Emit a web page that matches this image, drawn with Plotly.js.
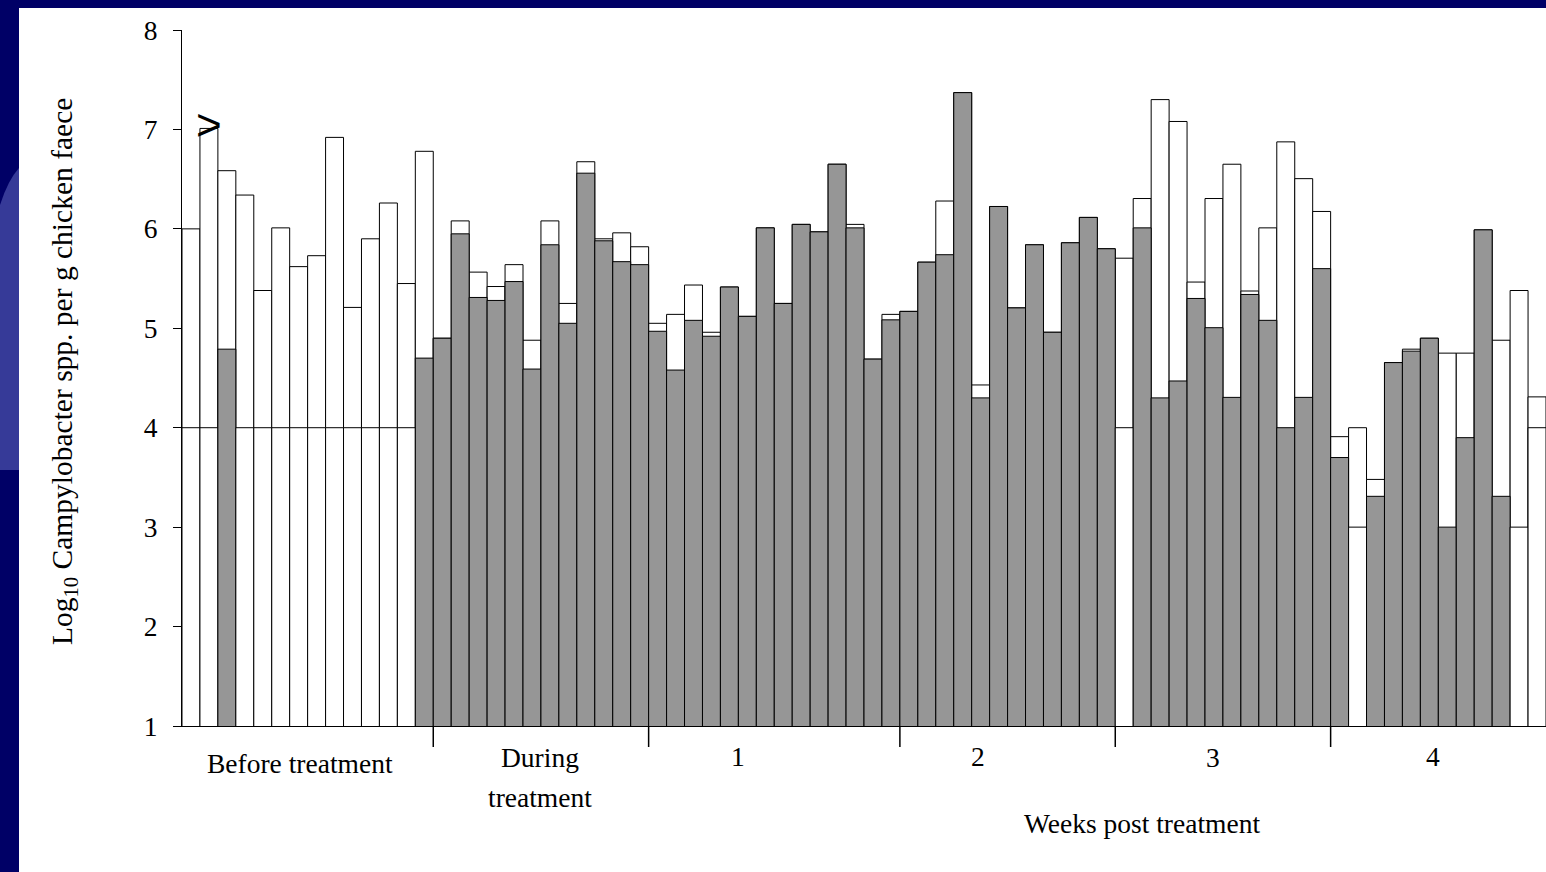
<!DOCTYPE html>
<html>
<head>
<meta charset="utf-8">
<script src="https://cdn.plot.ly/plotly-3.0.1.min.js"></script>
<style>
  html, body { margin: 0; padding: 0; background: #ffffff; }
  #chart { width: 1546px; height: 872px; }
</style>
</head>
<body>
<div id="chart"></div>
<script>
// ---- data (Log10 Campylobacter spp. per g chicken faeces, one bar per sample) ----
const maxVals = [6.00, 7.01, 6.585, 6.34, 5.38, 6.01, 5.62, 5.73, 6.92, 5.21, 5.90, 6.26, 5.45, 6.78,
                 4.90, 6.08, 5.565, 5.42, 5.64, 4.88, 6.08, 5.25, 6.675, 5.90, 5.96, 5.82,
                 5.05, 5.14, 5.435, 4.96, 5.415, 5.12, 6.01, 5.25, 6.045, 5.97, 6.65, 6.045, 4.69, 5.14,
                 5.17, 5.665, 6.28, 7.37, 4.43, 6.225, 5.205, 5.84, 4.96, 5.86, 6.115, 5.80,
                 5.705, 6.305, 7.30, 7.08, 5.465, 6.305, 6.65, 5.375, 6.01, 6.875, 6.505, 6.175,
                 3.91, 4.00, 3.48, 4.655, 4.79, 4.90, 4.75, 4.75, 5.99, 4.88, 5.38, 4.31];
const minVals = [4.00, 4.00, 4.79, 4.00, 4.00, 4.00, 4.00, 4.00, 4.00, 4.00, 4.00, 4.00, 4.00, 4.70,
                 4.90, 5.95, 5.31, 5.28, 5.47, 4.59, 5.84, 5.05, 6.56, 5.88, 5.67, 5.64,
                 4.97, 4.58, 5.08, 4.92, 5.415, 5.12, 6.01, 5.25, 6.045, 5.97, 6.65, 6.01, 4.69, 5.085,
                 5.17, 5.665, 5.74, 7.37, 4.30, 6.225, 5.205, 5.84, 4.96, 5.86, 6.115, 5.80,
                 4.00, 6.01, 4.30, 4.47, 5.30, 5.006, 4.305, 5.34, 5.08, 4.00, 4.305, 5.60,
                 3.70, 3.00, 3.31, 4.655, 4.77, 4.90, 3.00, 3.90, 5.99, 3.31, 3.00, 4.00];
// 1 = lower value detected (grey), 0 = not detected (white)
const detected = [0,0,1,0,0,0,0,0,0,0,0,0,0,1,
                  1,1,1,1,1,1,1,1,1,1,1,1,
                  1,1,1,1,1,1,1,1,1,1,1,1,1,1,
                  1,1,1,1,1,1,1,1,1,1,1,1,
                  0,1,1,1,1,1,1,1,1,1,1,1,
                  1,0,1,1,1,1,1,1,1,1,0,0];
const groupNames = ['Before treatment', 'During\ntreatment', '1', '2', '3', '4'];
const groupSizes = [14, 12, 14, 12, 12, 12];
const xTitle = 'Weeks post treatment';
const yTitle = 'Log<sub>10</sub> Campylobacter spp. per g chicken faece';
const yTicks = [1, 2, 3, 4, 5, 6, 7, 8];

// ---- layout helpers ----
const W = 1546, H = 872;
const L = 182, T = 30, B = 146, R = 0;
const plotW = W - L - R, plotH = H - T - B;
const nBars = maxVals.length;
const barPx = plotW / nBars;
const px2x = p => (p - L) / barPx - 0.5;      // pixel -> data x
const px2paperX = p => (p - L) / plotW;
const py2paperY = q => (H - B - q) / plotH;

const idx = maxVals.map((_, i) => i);
const grey = 'rgb(150,150,150)';

const traces = [
  {
    type: 'bar', x: idx, y: maxVals,
    marker: { color: '#ffffff', line: { color: '#000000', width: 1 } },
    hoverinfo: 'y', showlegend: false
  },
  {
    type: 'bar', x: idx, y: minVals,
    marker: { color: detected.map(d => d ? grey : '#ffffff'), line: { color: '#000000', width: 1 } },
    hoverinfo: 'y', showlegend: false
  }
];

// group separators below the axis
const shapes = [];
let cum = 0;
for (let g = 0; g < groupSizes.length - 1; g++) {
  cum += groupSizes[g];
  shapes.push({
    type: 'line', xref: 'x', yref: 'paper',
    x0: cum - 0.5, x1: cum - 0.5, y0: 0, y1: py2paperY(747),
    line: { color: '#000000', width: 1.5 }
  });
}
// slide frame (dark blue strips)
const navy = 'rgb(0,0,102)';
shapes.push({ type: 'rect', xref: 'paper', yref: 'paper', layer: 'above',
  x0: px2paperX(0), x1: px2paperX(W), y0: py2paperY(8), y1: py2paperY(0),
  fillcolor: navy, line: { width: 0 } });
shapes.push({ type: 'rect', xref: 'paper', yref: 'paper', layer: 'above',
  x0: px2paperX(0), x1: px2paperX(19), y0: py2paperY(H), y1: py2paperY(0),
  fillcolor: navy, line: { width: 0 } });
const P = (x, y) => px2paperX(x).toFixed(5) + ',' + py2paperY(y).toFixed(5);
shapes.push({ type: 'path', xref: 'paper', yref: 'paper', layer: 'above',
  path: 'M' + P(0, 205) + ' Q' + P(8, 180) + ' ' + P(19, 168) + ' L' + P(19, 470) + ' L' + P(0, 470) + ' Z',
  fillcolor: 'rgb(54,58,152)', line: { width: 0 } });

const font = { family: '"Liberation Serif", "Times New Roman", serif', color: '#000000', size: 27.5 };

// group labels
const labelCentersPx = [300, 540, 738, 978, 1213, 1433];
const labelTopPx = [764, 757, 756, 756, 757, 756];
const annotations = [];
groupNames.forEach((name, g) => {
  name.split('\n').forEach((line, k) => {
    annotations.push({
      xref: 'x', yref: 'paper', x: px2x(labelCentersPx[g]), y: py2paperY(labelTopPx[g] + 40 * k),
      text: line, showarrow: false, xanchor: 'center', yanchor: 'middle', font: font
    });
  });
});
annotations.push({
  xref: 'x', yref: 'paper', x: px2x(1142), y: py2paperY(823),
  text: xTitle, showarrow: false, xanchor: 'center', yanchor: 'middle', font: font
});
annotations.push({
  xref: 'paper', yref: 'paper', x: px2paperX(64), y: py2paperY(372),
  text: yTitle, textangle: -90, showarrow: false, xanchor: 'center', yanchor: 'middle',
  font: Object.assign({}, font, { size: 29.5 })
});
// ">" marker on the second bar
annotations.push({
  xref: 'x', yref: 'y', x: 1, y: 7.05,
  text: '>', showarrow: false, xanchor: 'center', yanchor: 'middle',
  font: { family: '"Liberation Sans", Arial, sans-serif', size: 44, color: '#000000' }
});

const layout = {
  width: W, height: H,
  margin: { l: L, r: R, t: T, b: B, pad: 0 },
  paper_bgcolor: '#ffffff', plot_bgcolor: '#ffffff',
  barmode: 'overlay', bargap: 0,
  font: font,
  showlegend: false,
  xaxis: {
    range: [-0.5, nBars - 0.5], showgrid: false, zeroline: false,
    showline: true, linecolor: '#000000', linewidth: 1,
    showticklabels: false, ticks: '', fixedrange: true
  },
  yaxis: {
    range: [1, 8], tickvals: yTicks, ticktext: yTicks.map(String),
    showgrid: false, zeroline: false,
    showline: true, linecolor: '#000000', linewidth: 1,
    ticks: 'outside', ticklen: 8, tickwidth: 1, tickcolor: '#000000',
    ticklabelstandoff: 10,
    tickfont: font, fixedrange: true
  },
  shapes: shapes,
  annotations: annotations
};

Plotly.newPlot('chart', traces, layout, { displayModeBar: false, staticPlot: true });
</script>
</body>
</html>
